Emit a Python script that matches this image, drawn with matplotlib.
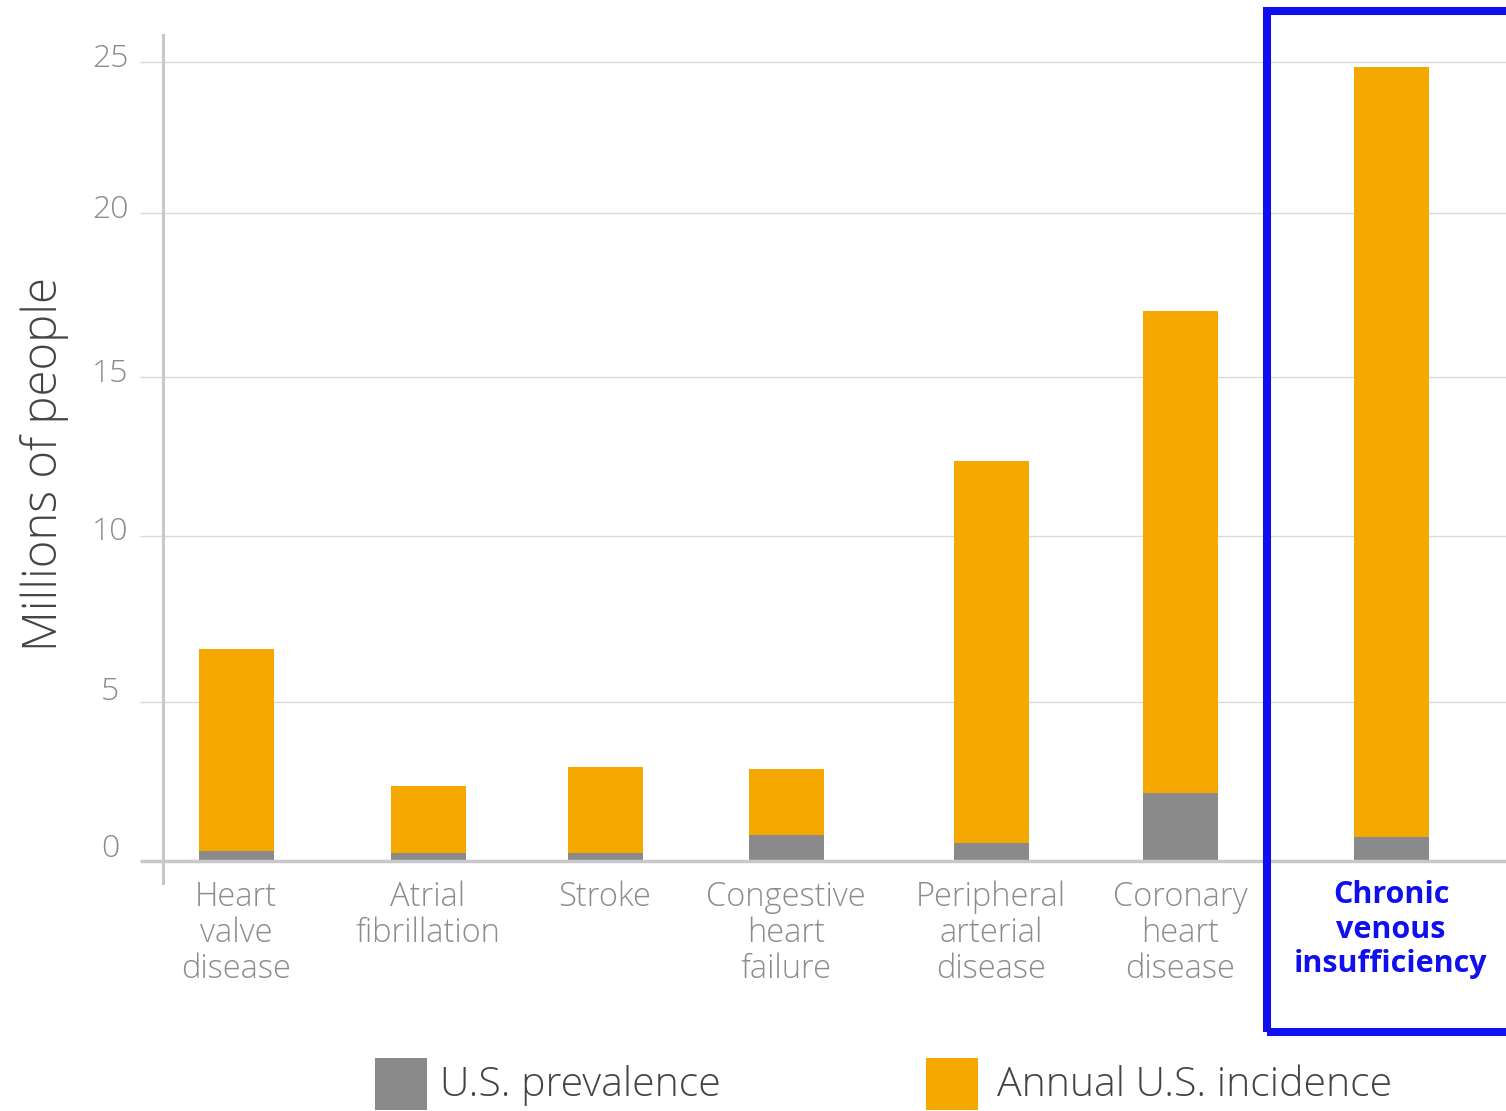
import numpy as np
import matplotlib
matplotlib.use("Agg")
from matplotlib import pyplot as plt
from matplotlib.patches import Rectangle
from matplotlib.transforms import ScaledTranslation

# data (millions of people)
categories = ["Heart\nvalve\ndisease", "Atrial\nfibrillation", "Stroke",
              "Congestive\nheart\nfailure", "Peripheral\narterial\ndisease",
              "Coronary\nheart\ndisease", "Chronic\nvenous\ninsufficiency"]
prevalence = [0.31, 0.25, 0.25, 0.82, 0.57, 2.14, 0.75]
incidence_total = [6.6, 2.36, 2.96, 2.89, 12.36, 17.0, 24.83]
incidence = [t - p for t, p in zip(incidence_total, prevalence)]
yticks = [0, 5, 10, 15, 20, 25]

# layout: the original's gridlines are not evenly spaced, so the y scale
# follows them piecewise (value -> pixel row)
W, H = 1506, 1111
knot_val = np.array([-1.0, 0, 5, 10, 15, 20, 25, 26])
knot_px = np.array([892.8, 861, 702, 536, 377, 213, 62, 31.8])
xpos = [236, 428, 605, 786, 991, 1180, 1391]
bar_w = 75


def fwd(v):
    return -np.interp(v, knot_val, knot_px)


def inv(t):
    return np.interp(-t, knot_px[::-1], knot_val[::-1])


GRAY = "#8a8a8a"
ORANGE = "#f5a800"
BLUE = "#1010ee"
TXT = "#8c8c8c"
LINE = "#c8c8c8"

plt.rcParams["font.family"] = ["Open Sans", "DejaVu Sans"]

fig = plt.figure(figsize=(W / 100, H / 100), dpi=100)
top_px, bot_px = 35, 883
ax = fig.add_axes([163 / W, 1 - bot_px / H, 1 - 163 / W, (bot_px - top_px) / H])
ax.set_yscale("function", functions=(fwd, inv))
ax.set_xlim(163, W)
ax.set_ylim(inv(-bot_px), inv(-top_px))

ax.bar(xpos, prevalence, width=bar_w, color=GRAY, zorder=3)
ax.bar(xpos, incidence, width=bar_w, bottom=prevalence, color=ORANGE, zorder=3)

# grid, zero line
ax.hlines(yticks[1:], 140, W, color="#d9d9d9", lw=1, clip_on=False, zorder=1)
ax.hlines(0, 140, W, color=LINE, lw=2.5, clip_on=False, zorder=4)

for s in ["top", "right", "bottom"]:
    ax.spines[s].set_visible(False)
ax.spines["left"].set_color(LINE)
ax.spines["left"].set_linewidth(2.2)

ax.set_yticks(yticks)
ax.yaxis.set_minor_locator(matplotlib.ticker.NullLocator())
ax.yaxis.set_major_formatter(matplotlib.ticker.FormatStrFormatter("%d"))
ax.tick_params(axis="y", length=0, pad=38, labelsize=23, labelcolor=TXT)
for lab, dy in zip(ax.get_yticklabels(), [16, 14, 8, 7, 7, 7]):
    lab.set_fontweight("light")
    lab.set_horizontalalignment("center")
    lab.set_transform(lab.get_transform() + ScaledTranslation(0, dy / 100, fig.dpi_scale_trans))

ax.set_xticks(xpos)
ax.set_xticklabels(categories, fontsize=23.5, color=TXT, linespacing=1.1,
                   fontweight="light")
ax.tick_params(axis="x", length=0, pad=-2)
last = ax.get_xticklabels()[-1]
last.set_color(BLUE)
last.set_fontweight("bold")
last.set_fontsize(22)
last.set_linespacing(1.2)

fig.text(45 / W, 1 - 464 / H, "Millions of people", rotation=90,
         ha="center", va="center", fontsize=34, color="#444444",
         fontweight="light")

# highlight box
fig.add_artist(Rectangle((1267 / W, 1 - 1032 / H), 400 / W, 1021 / H,
                         transform=fig.transFigure, fill=False,
                         edgecolor=BLUE, lw=5.8))

# legend
for x0, col, label, tx in [(375, GRAY, "U.S. prevalence", 440),
                           (926, ORANGE, "Annual U.S. incidence", 997)]:
    fig.add_artist(Rectangle((x0 / W, 1 - 1110 / H), 52 / W, 52 / H,
                             transform=fig.transFigure, color=col, lw=0))
    fig.text(tx / W, 1 - 1085 / H, label, ha="left", va="center",
             fontsize=29.5, color="#444444", fontweight="light")

plt.savefig("out.png", dpi=100)
